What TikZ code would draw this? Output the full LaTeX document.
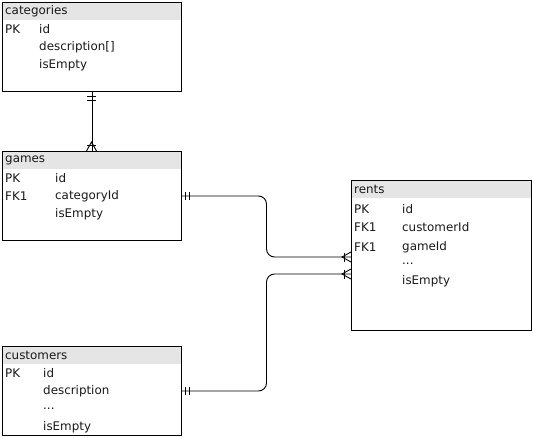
\documentclass[tikz,border=0pt]{standalone}
\usepackage{fontspec}
\setmainfont{DejaVu Sans}
\usetikzlibrary{calc}
\begin{document}
\begin{tikzpicture}[x=1pt,y=-1pt,
  tbl/.style={draw=black,line width=0.9pt,anchor=north west,inner sep=0pt,minimum width=#1},
  hdr/.style={fill=black!10},
  txt/.style={anchor=west,inner sep=0pt,text=black!90,font=\fontsize{11.9}{13}\selectfont},
  conn/.style={draw=black,line width=0.9pt},
  ermark/.style={draw=black,line width=0.9pt}]
\useasboundingbox (0,0) rectangle (533,437);
% headers
\fill[hdr] (2,2) rectangle (181,20);
\fill[hdr] (2,151) rectangle (181,169);
\fill[hdr] (351,180) rectangle (531,198);
\fill[hdr] (2,346) rectangle (181,364);
% tables
\node[tbl=179pt,minimum height=89pt] (cat) at (2,2) {};
\node[tbl=179pt,minimum height=89pt] (games) at (2,151) {};
\node[tbl=180pt,minimum height=150pt] (rents) at (351,180) {};
\node[tbl=179pt,minimum height=89pt] (cust) at (2,346) {};
% categories
\node[txt] (catH) at (5,11) {categories};
\node[txt] (catPK) at (5,29) {PK};
\node[txt] (catId) at (39,29) {id};
\node[txt] (catDesc) at (39,47) {description[]};
\node[txt] (catEmpty) at (39,65) {isEmpty};
% games
\node[txt] (gH) at (5,160) {games};
\node[txt] (gPK) at (5,178) {PK};
\node[txt] (gId) at (55,178) {id};
\node[txt] (gFK) at (5,196) {FK1};
\node[txt] (gCat) at (55,196) {categoryId};
\node[txt] (gEmpty) at (55,214) {isEmpty};
% rents
\node[txt] (rH) at (354,189) {rents};
\node[txt] (rPK) at (354,209) {PK};
\node[txt] (rId) at (402,209) {id};
\node[txt] (rFK1) at (354,227) {FK1};
\node[txt] (rCust) at (402,227) {customerId};
\node[txt] (rFK2) at (354,247) {FK1};
\node[txt] (rGame) at (402,247) {gameId};
\node[txt] (rDots) at (402,264) {...};
\node[txt] (rEmpty) at (402,281) {isEmpty};
% customers
\node[txt] (cH) at (5,355) {customers};
\node[txt] (cPK) at (5,373) {PK};
\node[txt] (cId) at (43,373) {id};
\node[txt] (cDesc) at (43,391) {description};
\node[txt] (cDots) at (43,409) {...};
\node[txt] (cEmpty) at (43,427) {isEmpty};
% connector coordinates
\coordinate (gOut) at (181,196);
\coordinate (rIn1) at (351,257);
\coordinate (rIn2) at (351,274);
\coordinate (cOut) at (181,391);
\coordinate (mid) at (266.5,0);
% categories -> games
\draw[conn] (cat.south) -- (games.north);
\draw[ermark] (87,96) -- (96,96) (87,100) -- (96,100);
\draw[ermark] (87,145) -- (96,145);
\draw[ermark] (86.5,151) -- (91.5,142) -- (96.5,151);
% games -> rents
\draw[conn,rounded corners=8pt] (gOut) -- (gOut -| mid) -- (mid |- rIn1) -- (rIn1);
\draw[ermark] (185,192) -- (185,200) (189,192) -- (189,200);
\draw[ermark] (344,252.5) -- (344,261.5);
\draw[ermark] (351,252) -- (342,257) -- (351,262);
% customers -> rents
\draw[conn,rounded corners=8pt] (cOut) -- (cOut -| mid) -- (mid |- rIn2) -- (rIn2);
\draw[ermark] (185,387) -- (185,395) (189,387) -- (189,395);
\draw[ermark] (344,269.5) -- (344,278.5);
\draw[ermark] (351,269) -- (342,274) -- (351,279);
\end{tikzpicture}
\end{document}
